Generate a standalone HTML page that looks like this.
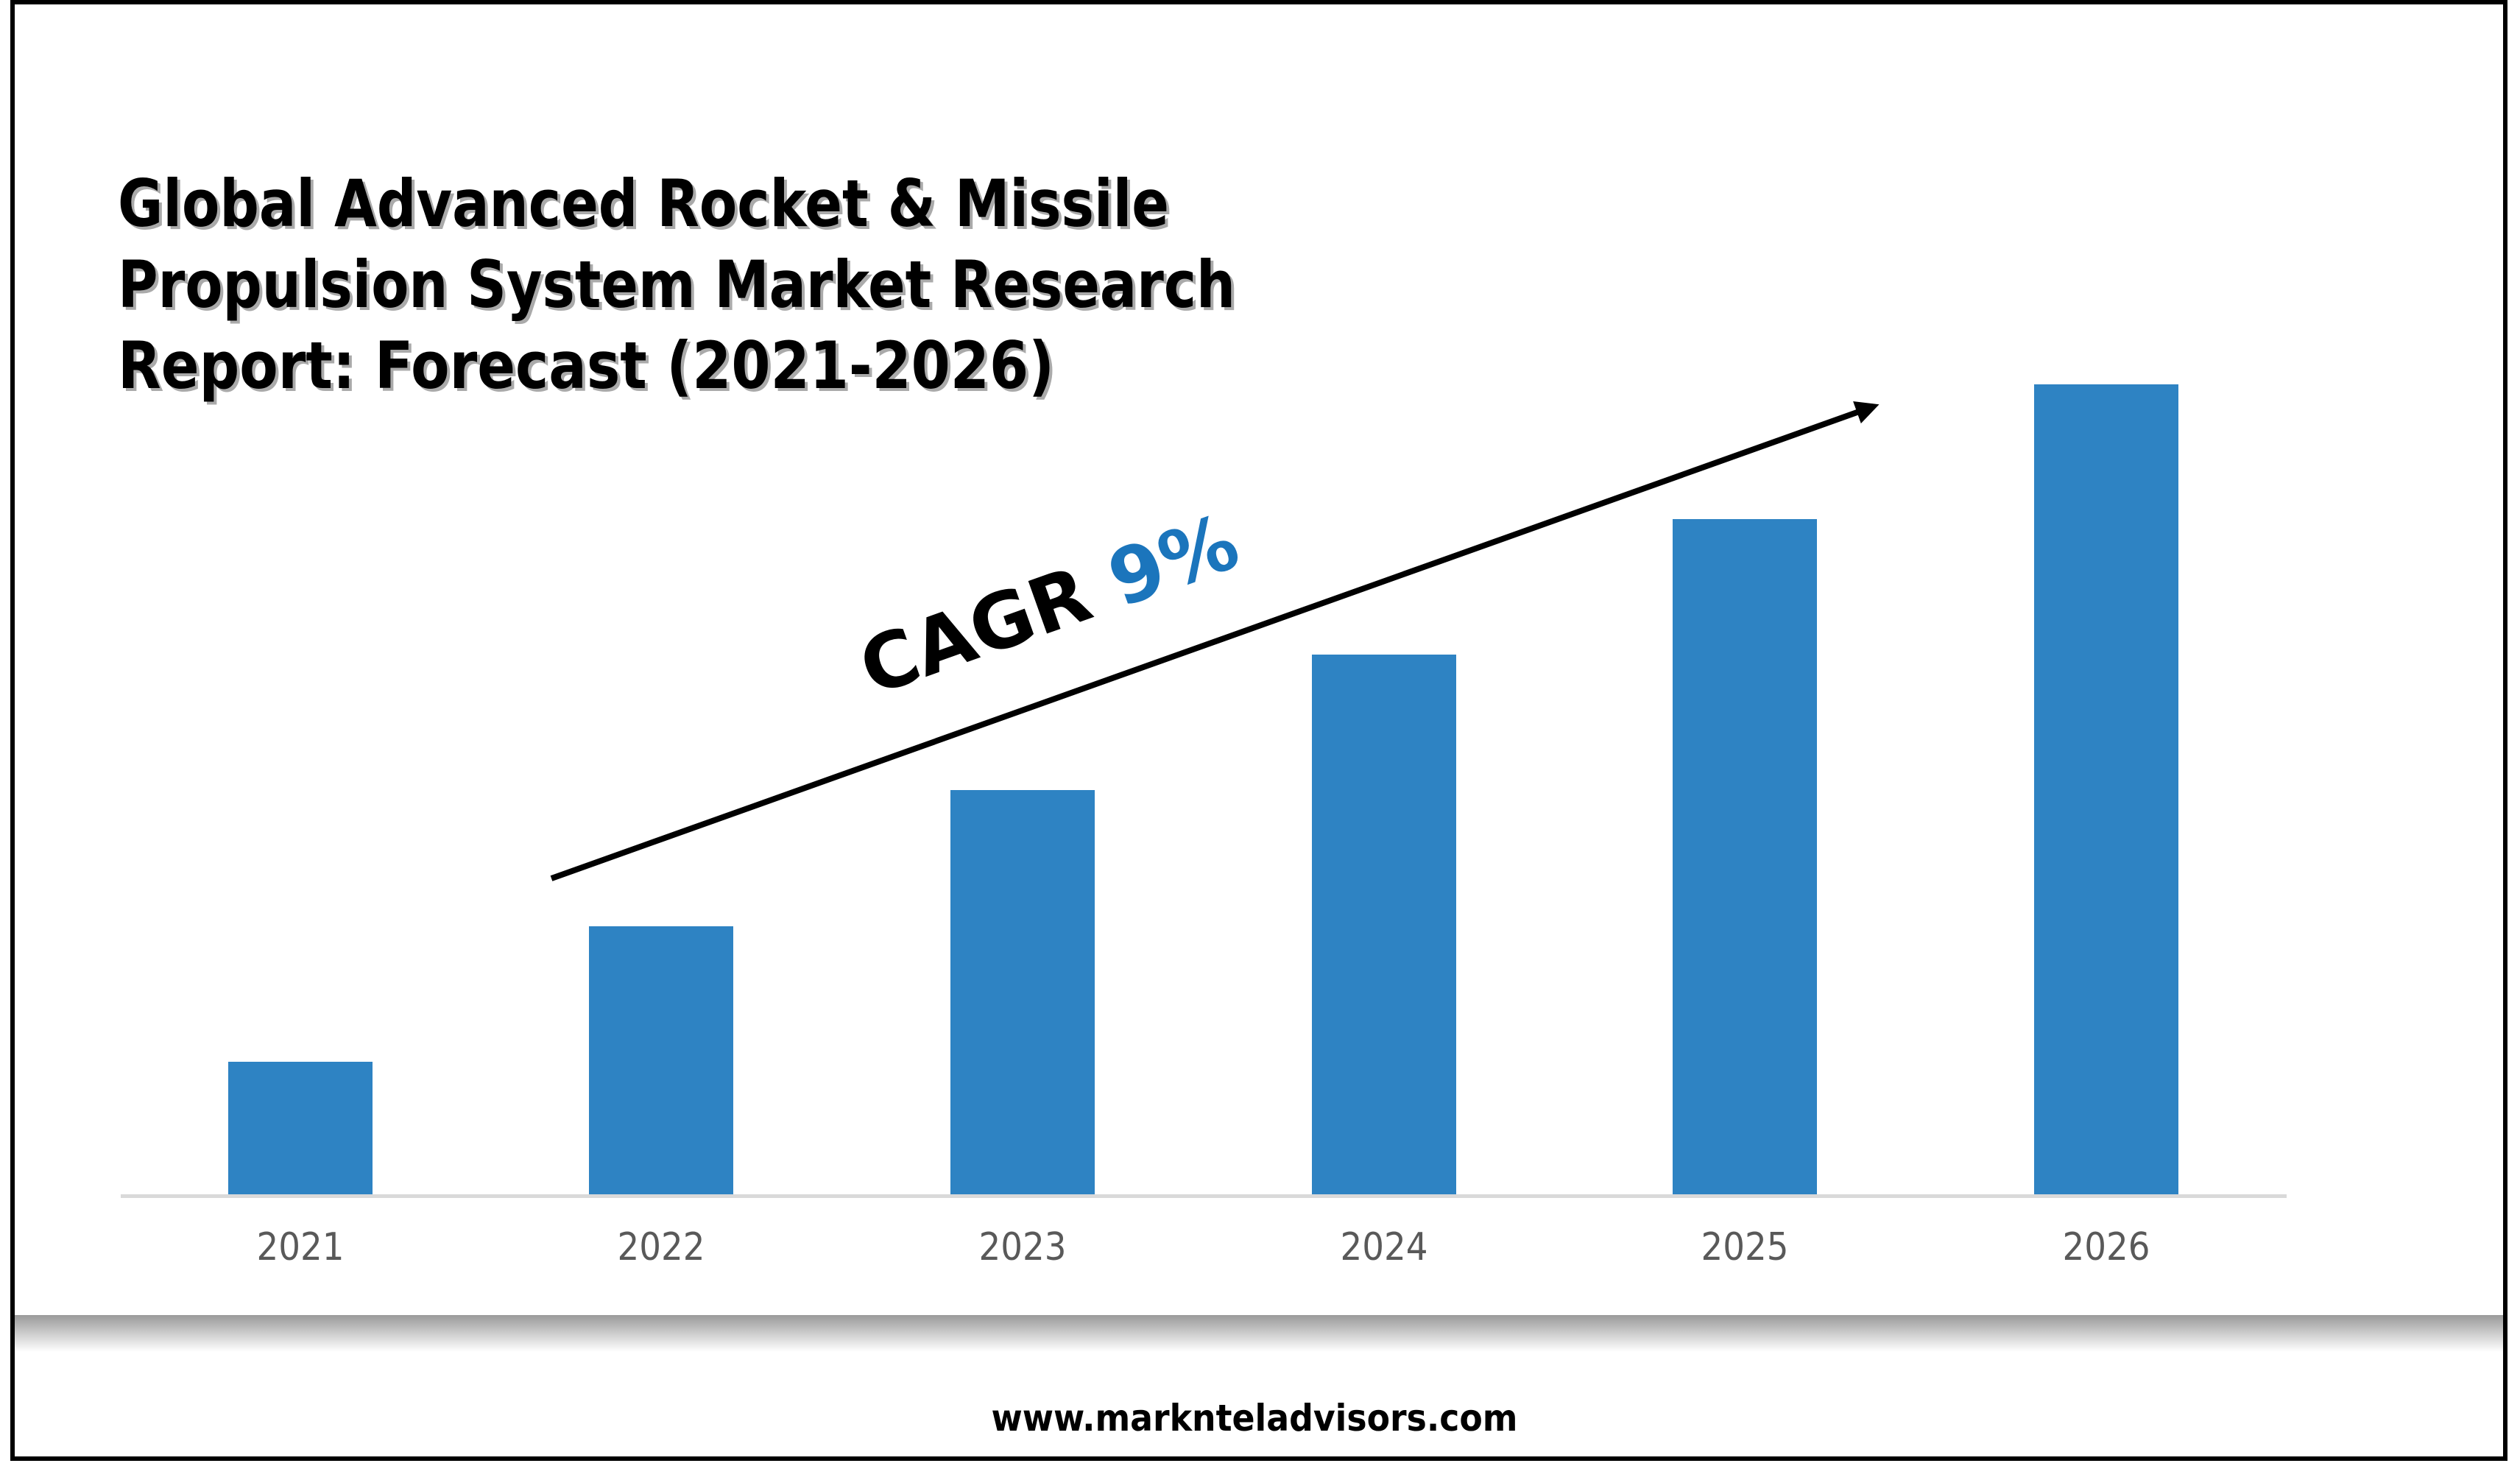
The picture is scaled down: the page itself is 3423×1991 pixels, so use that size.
<!DOCTYPE html>
<html><head><meta charset="utf-8"><style>
html,body{margin:0;padding:0;background:#fff;}
svg{display:block;}
</style></head><body>
<svg width="3423" height="1991" viewBox="0 0 3423 1991" xmlns="http://www.w3.org/2000/svg">
<defs>
<linearGradient id="sh" x1="0" y1="0" x2="0" y2="1">
<stop offset="0" stop-color="#9a9a9a"/><stop offset="1" stop-color="#ffffff"/>
</linearGradient>
<marker id="ah" markerWidth="4" markerHeight="4" refX="3" refY="2" orient="auto" markerUnits="strokeWidth">
<path d="M0,0 L4,2 L0,4 z" fill="#000"/>
</marker>
</defs>
<rect x="0" y="0" width="3423" height="1991" fill="#fff"/>
<rect x="17" y="3" width="3386" height="1978" fill="none" stroke="#000" stroke-width="6"/>
<rect x="20" y="1786" width="3380" height="50" fill="url(#sh)"/>
<g font-family="'DejaVu Sans', 'Liberation Sans', sans-serif" font-weight="bold" font-size="88">
<g fill="#aaa" transform="translate(4,4)">
<text x="160" y="307" textLength="1428" lengthAdjust="spacingAndGlyphs">Global Advanced Rocket &amp; Missile</text>
<text x="160" y="417" textLength="1518" lengthAdjust="spacingAndGlyphs">Propulsion System Market Research</text>
<text x="160" y="527" textLength="1272" lengthAdjust="spacingAndGlyphs">Report: Forecast (2021-2026)</text>
</g>
<g fill="#000">
<text x="160" y="307" textLength="1428" lengthAdjust="spacingAndGlyphs">Global Advanced Rocket &amp; Missile</text>
<text x="160" y="417" textLength="1518" lengthAdjust="spacingAndGlyphs">Propulsion System Market Research</text>
<text x="160" y="527" textLength="1272" lengthAdjust="spacingAndGlyphs">Report: Forecast (2021-2026)</text>
</g>
</g>
<g fill="#2e83c3">
<rect x="310" y="1442" width="196" height="183"/>
<rect x="800" y="1258" width="196" height="367"/>
<rect x="1291" y="1073" width="196" height="552"/>
<rect x="1782" y="889" width="196" height="736"/>
<rect x="2272" y="705" width="196" height="920"/>
<rect x="2763" y="522" width="196" height="1103"/>
</g>
<rect x="164" y="1622" width="2942" height="5" fill="#d9d9d9"/>
<g font-family="'DejaVu Sans Condensed','Liberation Sans Narrow','Liberation Sans',sans-serif" font-size="52" fill="#595959" text-anchor="middle">
<text x="408" y="1711">2021</text>
<text x="898" y="1711">2022</text>
<text x="1389" y="1711">2023</text>
<text x="1880" y="1711">2024</text>
<text x="2370" y="1711">2025</text>
<text x="2861" y="1711">2026</text>
</g>
<line x1="749" y1="1193" x2="2545" y2="552" stroke="#000" stroke-width="8" marker-end="url(#ah)"/>
<text transform="translate(1185,945) rotate(-19.6)" font-family="'DejaVu Sans','Liberation Sans',sans-serif" font-weight="bold" font-size="104" fill="#000">CAGR <tspan fill="#1b75bc">9%</tspan></text>
<text x="1704" y="1943" text-anchor="middle" font-family="'DejaVu Sans Condensed','Liberation Sans',sans-serif" font-weight="bold" font-size="50" fill="#000" textLength="715" lengthAdjust="spacingAndGlyphs">www.marknteladvisors.com</text>
</svg>
</body></html>
